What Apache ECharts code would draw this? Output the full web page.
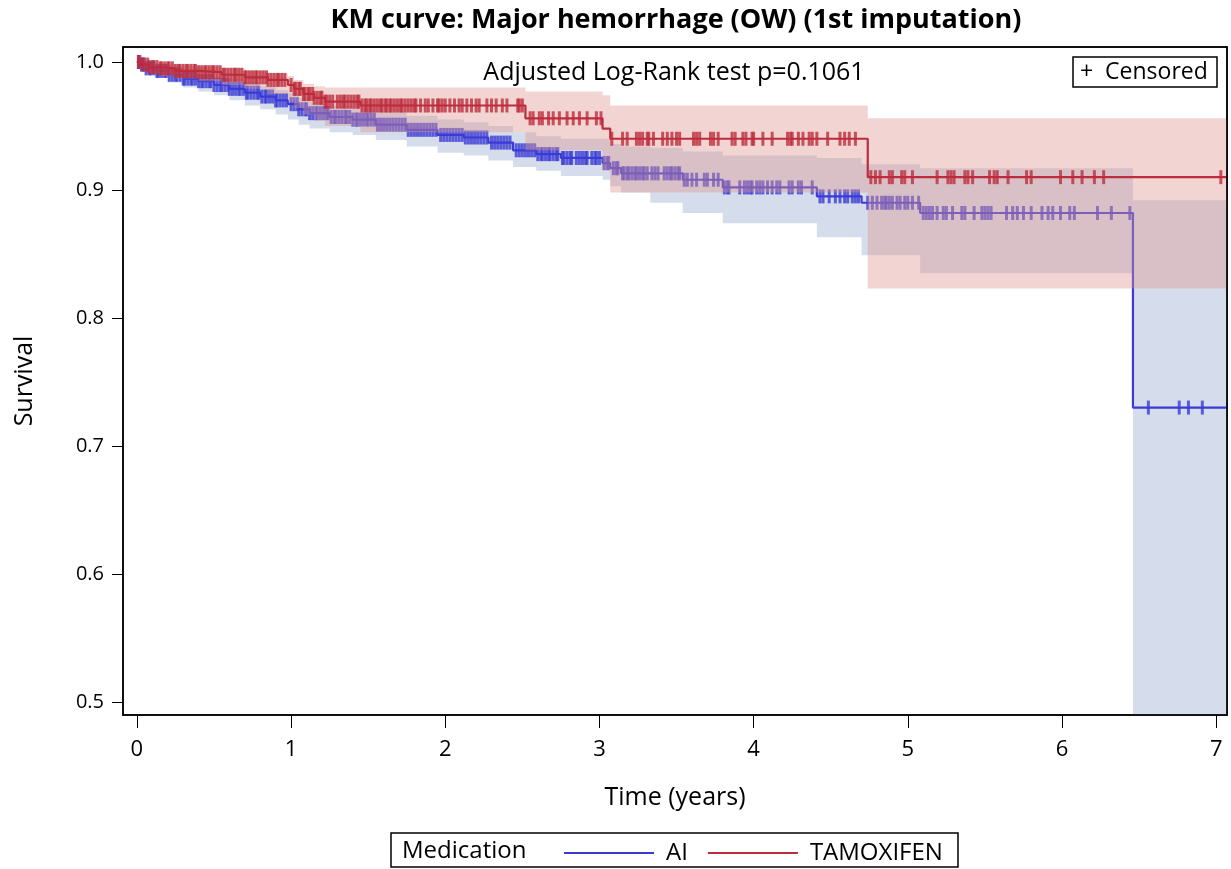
<!DOCTYPE html>
<html><head><meta charset="utf-8">
<script src="https://cdn.jsdelivr.net/npm/echarts@6/dist/echarts.min.js"></script>
<style>html,body{margin:0;padding:0;background:#fff}#c{width:1231px;height:869px}</style>
</head><body><div id="c"></div>
<script>
// ---------- data ----------
const xTicks = [0, 1, 2, 3, 4, 5, 6, 7];
const yTicks = [0.5, 0.6, 0.7, 0.8, 0.9, 1.0];

// TAMOXIFEN Kaplan-Meier step function
const tamTime  = [0, 0.03, 0.08, 0.15, 0.25, 0.40, 0.55, 0.70, 0.85, 0.98, 1.02, 1.08, 1.15, 1.22, 1.45, 2.52, 3.02, 3.07, 4.74, 7.07];
const tamSurv  = [1.000, 0.998, 0.996, 0.995, 0.993, 0.992, 0.990, 0.988, 0.986, 0.982, 0.979, 0.975, 0.972, 0.969, 0.966, 0.956, 0.948, 0.940, 0.910, 0.910];
const tamUpper = [1.000, 0.9995, 0.999, 0.998, 0.997, 0.996, 0.995, 0.993, 0.991, 0.989, 0.986, 0.983, 0.981, 0.980, 0.980, 0.977, 0.974, 0.966, 0.956, 0.956];
const tamLower = [1.000, 0.995, 0.991, 0.989, 0.987, 0.985, 0.982, 0.979, 0.975, 0.969, 0.964, 0.959, 0.954, 0.950, 0.945, 0.931, 0.915, 0.898, 0.823, 0.823];
const tamCensor = [0.01, 0.02, 0.04, 0.05, 0.07, 0.08, 0.10, 0.11, 0.13, 0.15, 0.16, 0.18, 0.20, 0.21, 0.23, 0.25, 0.27, 0.28, 0.30, 0.32, 0.33, 0.35, 0.37, 0.38, 0.40, 0.42, 0.44, 0.45, 0.47, 0.49, 0.50, 0.52, 0.54, 0.56, 0.57, 0.59, 0.61, 0.63, 0.64, 0.66, 0.68, 0.70, 0.71, 0.73, 0.75, 0.77, 0.78, 0.80, 0.82, 0.84, 0.85, 0.87, 0.89, 0.91, 0.92, 0.94, 0.96,
  1.00, 1.02, 1.03, 1.05, 1.06, 1.08, 1.09, 1.11, 1.12, 1.14, 1.15, 1.17, 1.19, 1.20, 1.22, 1.23, 1.25, 1.27, 1.30, 1.32, 1.34, 1.35, 1.37, 1.39, 1.41, 1.43, 1.44,
  1.46, 1.48, 1.49, 1.51, 1.52, 1.54, 1.56, 1.58, 1.59, 1.61, 1.62, 1.64, 1.65, 1.67, 1.69, 1.71, 1.72, 1.74, 1.76, 1.78, 1.80, 1.81, 1.84, 1.87, 1.89, 1.92, 1.95, 1.96, 1.98, 2.00, 2.03, 2.06, 2.09, 2.11, 2.14, 2.17, 2.20, 2.22, 2.27, 2.30, 2.33, 2.37, 2.40, 2.47, 2.48, 2.50,
  2.55, 2.57, 2.61, 2.63, 2.67, 2.70, 2.74, 2.79, 2.83, 2.87, 2.92, 2.98, 3.01,
  3.08, 3.15, 3.18, 3.24, 3.26, 3.28, 3.31, 3.32, 3.35, 3.41, 3.44, 3.47, 3.50, 3.52, 3.61, 3.63, 3.65, 3.72, 3.74, 3.77, 3.86, 3.88, 3.93, 3.95, 3.99, 4.00, 4.06, 4.12, 4.22, 4.24, 4.25, 4.29, 4.32, 4.36, 4.38, 4.41, 4.48, 4.56, 4.59, 4.62, 4.66,
  4.76, 4.79, 4.82, 4.88, 4.90, 4.96, 4.98, 5.03, 5.19, 5.26, 5.28, 5.30, 5.37, 5.39, 5.42, 5.53, 5.56, 5.58, 5.65, 5.77, 5.80, 5.99, 6.07, 6.13, 6.21, 6.27, 7.03];

// AI Kaplan-Meier step function
const aiTime = [0, 0.02, 0.06, 0.12, 0.20, 0.30, 0.40, 0.50, 0.60, 0.70, 0.80, 0.90, 0.98, 1.05, 1.12, 1.25, 1.40, 1.55, 1.75, 1.95, 2.12, 2.28, 2.44, 2.59, 2.75, 3.02, 3.07, 3.14, 3.54, 3.80, 4.41, 4.70, 5.08, 6.46, 7.07];
const aiSurv = [1.000, 0.998, 0.995, 0.993, 0.990, 0.987, 0.985, 0.982, 0.979, 0.976, 0.973, 0.970, 0.967, 0.963, 0.960, 0.957, 0.955, 0.951, 0.947, 0.943, 0.941, 0.937, 0.931, 0.928, 0.925, 0.921, 0.917, 0.913, 0.908, 0.902, 0.895, 0.890, 0.882, 0.730, 0.730];
const aiBandTime = [0, 0.02, 0.06, 0.12, 0.20, 0.30, 0.40, 0.50, 0.60, 0.70, 0.80, 0.90, 0.98, 1.05, 1.12, 1.25, 1.40, 1.55, 1.75, 1.95, 2.12, 2.28, 2.44, 2.59, 2.75, 3.02, 3.07, 3.14, 3.33, 3.54, 3.80, 4.41, 4.70, 5.08, 6.46, 7.07];
const aiUpper = [1.000, 0.9995, 0.998, 0.997, 0.995, 0.993, 0.991, 0.989, 0.987, 0.984, 0.981, 0.978, 0.976, 0.972, 0.969, 0.966, 0.964, 0.961, 0.958, 0.955, 0.953, 0.950, 0.945, 0.942, 0.940, 0.940, 0.936, 0.934, 0.933, 0.930, 0.927, 0.925, 0.920, 0.917, 0.892, 0.892];
const aiLower = [1.000, 0.995, 0.991, 0.988, 0.984, 0.980, 0.977, 0.974, 0.970, 0.966, 0.963, 0.959, 0.955, 0.951, 0.948, 0.945, 0.943, 0.939, 0.934, 0.929, 0.927, 0.923, 0.918, 0.915, 0.911, 0.908, 0.903, 0.898, 0.890, 0.882, 0.874, 0.863, 0.849, 0.835, 0.400, 0.400];
const aiCensor = [0.01, 0.03, 0.04, 0.06, 0.08, 0.09, 0.11, 0.13, 0.14, 0.16, 0.18, 0.19, 0.21, 0.23, 0.25, 0.26, 0.28, 0.30, 0.31, 0.33, 0.35, 0.36, 0.38, 0.40, 0.42, 0.43, 0.45, 0.47, 0.48, 0.50, 0.52, 0.54, 0.55, 0.57, 0.59, 0.60, 0.62, 0.64, 0.66, 0.67, 0.69, 0.71, 0.72, 0.74, 0.76, 0.78, 0.79, 0.81, 0.83, 0.84, 0.86, 0.88, 0.90, 0.91, 0.93, 0.95, 0.97,
  1.00, 1.02, 1.04, 1.05, 1.07, 1.09, 1.10, 1.12, 1.14, 1.16, 1.17, 1.19, 1.21, 1.23, 1.24, 1.26, 1.28, 1.29, 1.31, 1.33, 1.35, 1.36, 1.38, 1.40, 1.42, 1.43, 1.45, 1.47, 1.49, 1.50, 1.52, 1.54, 1.56, 1.58, 1.60, 1.62, 1.64, 1.66, 1.68, 1.70, 1.72, 1.74, 1.76, 1.78, 1.80, 1.82, 1.84, 1.86, 1.88, 1.90, 1.92, 1.94, 1.97, 1.99, 2.01, 2.03, 2.05, 2.07, 2.09, 2.11, 2.13, 2.15, 2.17, 2.19, 2.21, 2.23, 2.25, 2.27, 2.30, 2.32, 2.34, 2.36, 2.38, 2.40, 2.42, 2.46, 2.48, 2.50, 2.52, 2.54, 2.56, 2.58,
  2.60, 2.62, 2.63, 2.65, 2.67, 2.68, 2.70, 2.72, 2.73, 2.76, 2.77, 2.79, 2.81, 2.82, 2.85, 2.87, 2.89, 2.91, 2.92, 2.95, 2.97, 2.98, 3.00,
  3.03, 3.05, 3.06, 3.09, 3.11, 3.12,
  3.15, 3.16, 3.18, 3.19, 3.21, 3.23, 3.24, 3.26, 3.28, 3.29, 3.31, 3.34, 3.36, 3.38, 3.42, 3.44, 3.46, 3.47, 3.49, 3.51, 3.52,
  3.55, 3.57, 3.60, 3.63, 3.68, 3.70, 3.74, 3.77, 3.81, 3.83, 3.84, 3.91, 3.94, 3.96, 3.98, 3.99, 4.02, 4.04, 4.06, 4.09, 4.12, 4.15, 4.17, 4.23, 4.25, 4.29, 4.31, 4.38,
  4.43, 4.45, 4.49, 4.53, 4.56, 4.59, 4.61, 4.64, 4.66, 4.68, 4.74, 4.77, 4.80, 4.83, 4.85, 4.86, 4.88, 4.90, 4.93, 4.95, 4.98, 5.00, 5.03, 5.07,
  5.10, 5.12, 5.14, 5.16, 5.19, 5.23, 5.25, 5.29, 5.35, 5.37, 5.43, 5.48, 5.50, 5.52, 5.54, 5.64, 5.68, 5.71, 5.75, 5.80, 5.87, 5.91, 5.94, 5.99, 6.05, 6.08, 6.23, 6.32, 6.44, 6.56, 6.76, 6.82, 6.91];

// ---------- chart ----------
const FONT = 'Open Sans';
const AI_COLOR = '#3b3bd4';
const TAM_COLOR = '#bd2c3c';
const AI_BAND = 'rgba(150,167,205,0.4)';
const TAM_BAND = 'rgba(222,150,142,0.4)';
const X_MIN = -0.09, X_MAX = 7.07, Y_MIN = 0.4898, Y_MAX = 1.0117;

function stepVal(times, vals, t) {
  let v = vals[0];
  for (let i = 0; i < times.length; i++) { if (times[i] <= t + 1e-9) v = vals[i]; else break; }
  return v;
}
function band(name, times, lower, upper, color, z) {
  return {
    type: 'custom', name: name, silent: true, z: z,
    data: [[times[0], upper[0]]],
    renderItem: function (params, api) {
      const cl = v => Math.max(Y_MIN, Math.min(Y_MAX, v));
      const pts = [];
      for (let i = 0; i < times.length - 1; i++) {
        pts.push(api.coord([times[i], cl(upper[i])]));
        pts.push(api.coord([times[i + 1], cl(upper[i])]));
      }
      for (let i = times.length - 2; i >= 0; i--) {
        pts.push(api.coord([times[i + 1], cl(lower[i])]));
        pts.push(api.coord([times[i], cl(lower[i])]));
      }
      return { type: 'polygon', shape: { points: pts }, style: { fill: color, stroke: null } };
    }
  };
}
function curve(name, times, surv, color, z) {
  return { type: 'line', name: name, step: 'end', symbol: 'none', silent: true, z: z,
    lineStyle: { color: color, width: 2.2 }, itemStyle: { color: color },
    data: times.map((t, i) => [t, surv[i]]) };
}
function censor(name, cens, times, surv, color, z) {
  return { type: 'scatter', name: name + ' censored', symbol: 'rect', symbolSize: [3, 14], silent: true, z: z,
    itemStyle: { color: color }, data: cens.map(t => [t, stepVal(times, surv, t)]) };
}

const chart = echarts.init(document.getElementById('c'), null, { renderer: 'canvas' });
chart.setOption({
  backgroundColor: '#fff',
  animation: false,
  title: {
    text: 'KM curve: Major hemorrhage (OW) (1st imputation)',
    left: 671, top: 2, textAlign: 'center',
    textStyle: { fontFamily: FONT, fontSize: 27, fontWeight: 'bold', color: '#000' }
  },
  grid: { left: 123, top: 47, width: 1104, height: 668, show: true, borderColor: '#000', borderWidth: 1.5, backgroundColor: '#fff' },
  xAxis: {
    type: 'value', min: X_MIN, max: X_MAX,
    name: 'Time (years)', nameLocation: 'middle', nameGap: 70,
    nameTextStyle: { fontFamily: FONT, fontSize: 25, color: '#000' },
    axisLine: { show: false, onZero: false },
    axisTick: { show: true, customValues: xTicks, length: 13, lineStyle: { color: '#000', width: 1 } },
    axisLabel: { customValues: xTicks, margin: 24, fontFamily: FONT, fontSize: 22, color: '#000' },
    splitLine: { show: false }
  },
  yAxis: {
    type: 'value', min: Y_MIN, max: Y_MAX,
    name: 'Survival', nameLocation: 'middle', nameGap: 86, nameRotate: 90,
    nameTextStyle: { fontFamily: FONT, fontSize: 25, color: '#000' },
    axisLine: { show: false, onZero: false },
    axisTick: { show: true, customValues: yTicks, length: 11, lineStyle: { color: '#000', width: 1 } },
    axisLabel: { customValues: yTicks, margin: 19, fontFamily: FONT, fontSize: 20, color: '#000',
      formatter: v => v.toFixed(1) },
    splitLine: { show: false }
  },
  legend: {
    data: ['AI', 'TAMOXIFEN'], left: 559, top: 836, icon: 'rect', itemWidth: 90, itemHeight: 2, itemGap: 20,
    textStyle: { fontFamily: FONT, fontSize: 24, color: '#000', padding: [0, 0, 0, 7] }
  },
  graphic: [
    { type: 'rect', shape: { x: 391, y: 833, width: 567, height: 34 }, style: { fill: 'none', stroke: '#000', lineWidth: 1.5 }, z: 10 },
    { type: 'text', x: 402, y: 851, style: { text: 'Medication', font: '24px "Open Sans"', fill: '#000', textVerticalAlign: 'middle' }, z: 10 },
    { type: 'text', x: 674, y: 73, style: { text: 'Adjusted Log-Rank test p=0.1061', font: '25px "Open Sans"', fill: '#000', textAlign: 'center', textVerticalAlign: 'middle' }, z: 10 },
    { type: 'rect', shape: { x: 1073, y: 57, width: 144, height: 30 }, style: { fill: '#fff', stroke: '#000', lineWidth: 1.5 }, z: 10 },
    { type: 'text', x: 1080, y: 72, style: { text: '+  Censored', font: '23px "Open Sans"', fill: '#000', textVerticalAlign: 'middle' }, z: 11 },
    { type: 'rect', shape: { x: 123, y: 47, width: 1104, height: 668 }, style: { fill: 'none', stroke: '#000', lineWidth: 1.5 }, z: 9, silent: true }
  ],
  series: [
    band('AI band', aiBandTime, aiLower, aiUpper, AI_BAND, 1),
    curve('AI', aiTime, aiSurv, AI_COLOR, 2),
    censor('AI', aiCensor, aiTime, aiSurv, AI_COLOR, 3),
    band('TAM band', tamTime, tamLower, tamUpper, TAM_BAND, 4),
    curve('TAMOXIFEN', tamTime, tamSurv, TAM_COLOR, 5),
    censor('TAMOXIFEN', tamCensor, tamTime, tamSurv, TAM_COLOR, 6)
  ]
});
</script>
</body></html>
